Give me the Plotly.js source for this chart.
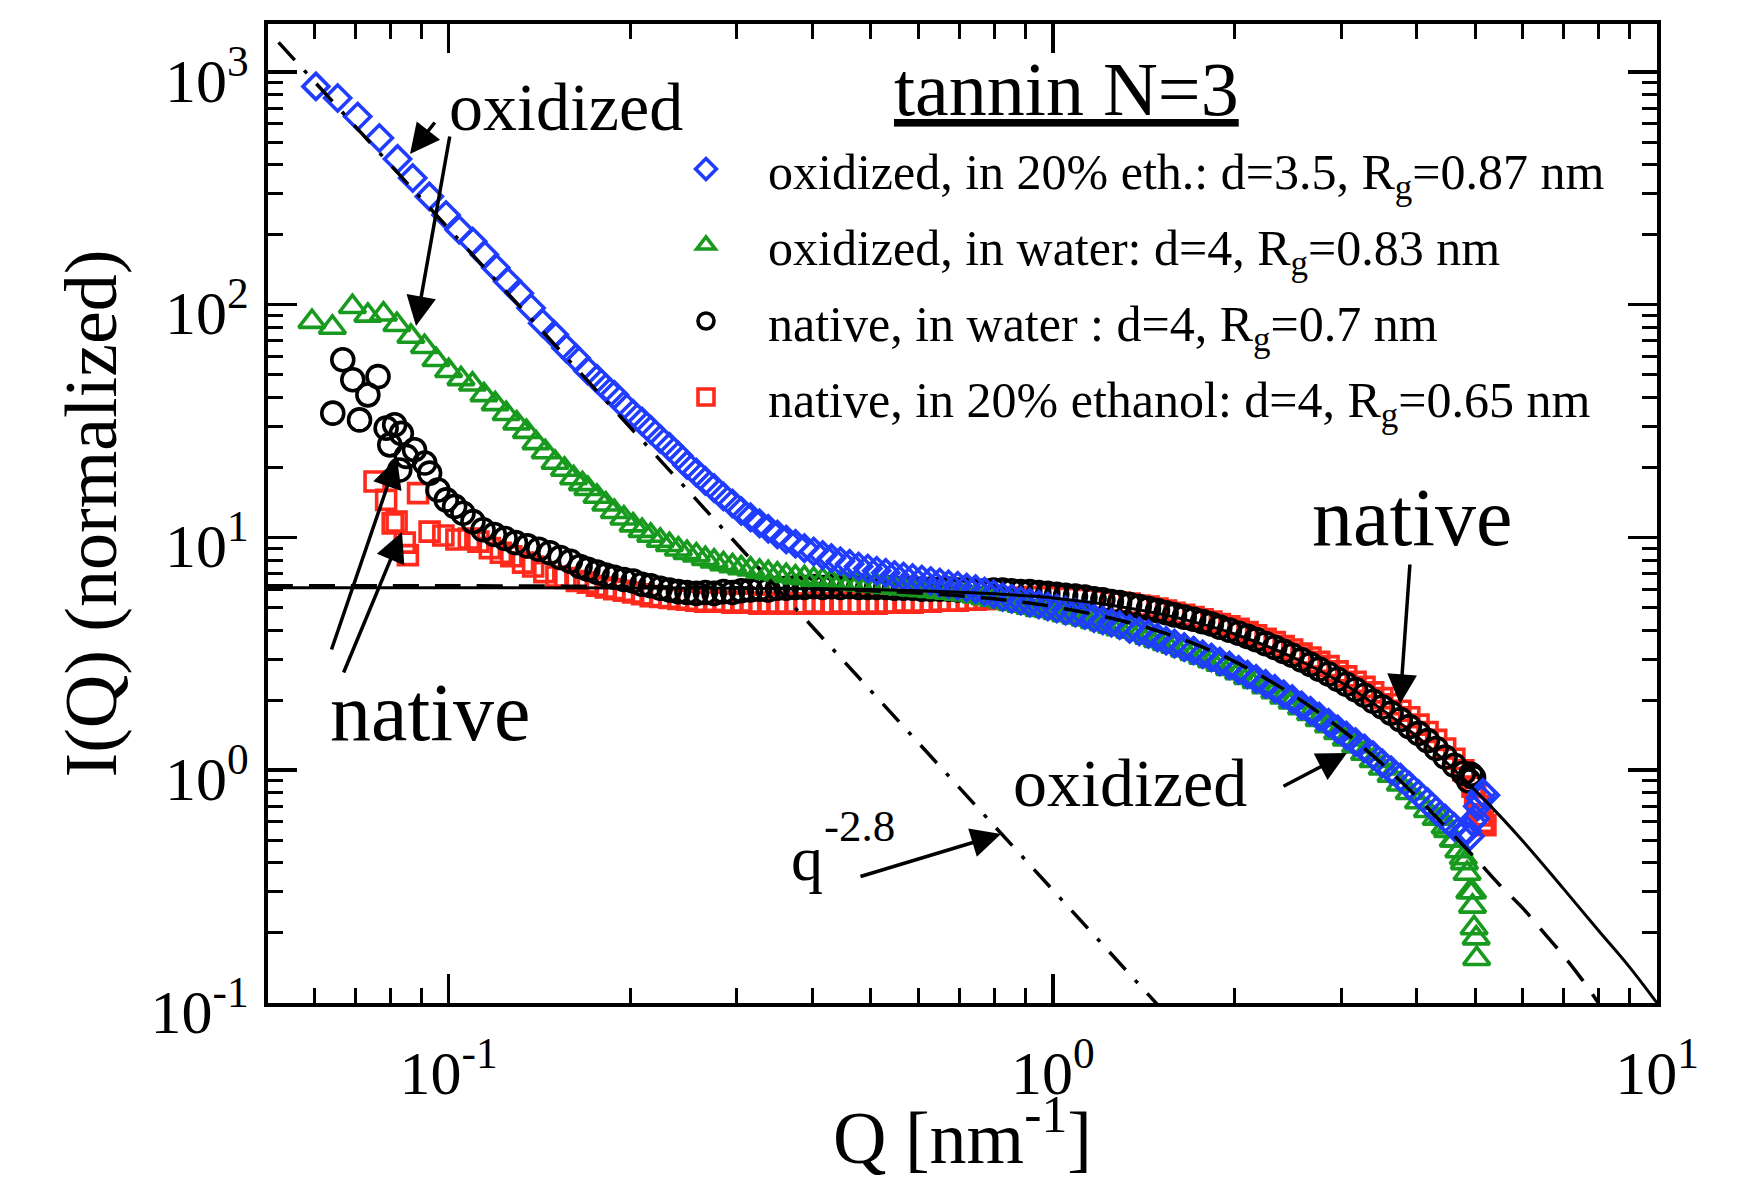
<!DOCTYPE html>
<html><head><meta charset="utf-8">
<script src="https://cdn.plot.ly/plotly-3.0.1.min.js"></script>
<style>html,body{margin:0;padding:0;background:#fff;} #chart{width:1752px;height:1179px;}</style>
</head><body><div id="chart"></div>
<script>
// ---------- data ----------
// oxidized, in 20% ethanol (blue diamonds)
const qBlueLow = [0.0603,0.0655,0.0707,0.0768,0.0823,0.0872,0.0929,0.099,0.1041,0.1096,0.1146,0.1197,0.1252,0.1309,0.1369,0.1431,0.1496,0.1564,0.1625];
const iBlueLow = [867,773,644,520,423,350,292,243,210,187,164,144,126,112,96.7,83.3,74.3,65.1,59];
// oxidized, in water (green triangles)
const qGreenLow = [0.0594,0.0642,0.0693,0.0735,0.078,0.0821,0.0866,0.0912,0.0953,0.1,0.1048,0.1095,0.1144,0.1194,0.1245,0.1296,0.1345,0.1395,0.1445,0.15,0.1555,0.161,0.1665];
const iGreenLow = [84.6,79.8,98,90,91,82,73,66,58,52,48,45.5,41,37.5,34,31,28.5,25.5,23.3,21,19.6,18,17];
// native, in water (black circles)
const qBlackLow = [0.0643,0.0668,0.0694,0.0712,0.0735,0.0764,0.0788,0.0799,0.0814,0.083,0.0835,0.0851,0.0878,0.0913,0.093,0.096,0.0991,0.1023,0.1056,0.1097,0.114,0.119,0.124,0.129,0.135,0.141,0.147,0.153,0.159,0.165];
const iBlackLow = [34.2,58,47.6,32,41,49.1,29.5,25,30.5,19.5,28,22.3,23.8,20.9,18.9,16,14.5,13.6,12.7,11.7,10.8,10.3,9.9,9.5,9.2,8.9,8.6,8.2,7.9,7.5];
// native, in 20% ethanol (red squares)
const qRedLow = [0.0754,0.0788,0.0808,0.082,0.0846,0.0856,0.089,0.093,0.098,0.103,0.108,0.112,0.117,0.122,0.127,0.1328,0.138,0.144,0.1508,0.156,0.163];
const iRedLow = [17.4,14.5,11.5,11.7,9.5,8.4,15.5,10.6,10.2,9.8,9.9,9.6,9.0,8.6,8.3,7.8,7.5,7.1,6.8,6.7,6.5];

// dense part of all four curves, read on a common Q list
const qBand = [0.170,0.176,0.182,0.188,0.195,0.202,0.209,0.216,0.224,0.232,0.240,0.248,0.257,0.266,0.275,0.285,0.295,0.305,0.316,0.327,0.338,0.350,0.362,0.375,0.388,0.402,0.416,0.430,0.445,0.461,0.477,0.494,0.511,0.529,0.547,0.566,0.586,0.607,0.628,0.650,0.672,0.696,0.720,0.745,0.771,0.798,0.826,0.855,0.885,0.916,0.948,0.981,1.015,1.05,1.09,1.13,1.17,1.21,1.25,1.29,1.34,1.39,1.44,1.49,1.54,1.59,1.65,1.71,1.77,1.83,1.89,1.96,2.03,2.10,2.17,2.25,2.33,2.41,2.49,2.58,2.67,2.76,2.86,2.96,3.06,3.17,3.28,3.39,3.51,3.63,3.76,3.89,4.03,4.17,4.31,4.46,4.62,4.78,4.95];
const iBlueBand = [52,48,44,41,37,34,31.5,29,26.5,24.5,22.5,20.5,19,17.5,16.3,15,14,13,12.2,11.5,10.9,10.3,9.8,9.4,9.0,8.7,8.4,8.15,7.9,7.7,7.5,7.35,7.2,7.05,6.9,6.8,6.7,6.6,6.5,6.4,6.3,6.2,6.1,6.0,5.85,5.7,5.55,5.45,5.35,5.25,5.15,5.05,4.95,4.85,4.75,4.65,4.5,4.4,4.3,4.2,4.05,3.95,3.85,3.72,3.6,3.5,3.38,3.27,3.15,3.05,2.93,2.82,2.7,2.58,2.47,2.35,2.24,2.12,2.02,1.9,1.8,1.7,1.6,1.5,1.41,1.32,1.24,1.16,1.07,1.0,0.93,0.86,0.79,0.73,0.67,0.62,0.57,0.54,0.6];
const iGreenBand = [16.2,15.0,13.9,12.9,12.1,11.3,10.7,10.2,9.7,9.3,8.9,8.6,8.4,8.1,7.9,7.7,7.55,7.4,7.3,7.15,7.05,6.95,6.85,6.75,6.7,6.6,6.55,6.45,6.4,6.35,6.3,6.25,6.2,6.15,6.1,6.05,6.0,5.95,5.9,5.85,5.8,5.75,5.7,5.6,5.5,5.4,5.3,5.2,5.1,5.0,4.9,4.85,4.75,4.65,4.55,4.45,4.35,4.25,4.15,4.05,3.95,3.85,3.72,3.6,3.5,3.4,3.28,3.17,3.05,2.95,2.85,2.73,2.62,2.5,2.4,2.28,2.17,2.06,1.96,1.85,1.75,1.65,1.55,1.45,1.36,1.27,1.18,1.1,1.02,0.95,0.87,0.8,0.73,0.67,0.62,0.57,0.5,0.42,0.3];
const iBlackBand = [7.3,7.1,6.9,6.75,6.6,6.5,6.3,6.2,6.05,5.95,5.85,5.8,5.75,5.8,5.75,5.85,5.8,5.9,5.95,6.0,5.95,6.05,6.05,6.1,6.1,6.15,6.1,6.15,6.1,6.15,6.1,6.1,6.1,6.1,6.05,6.05,6.05,6.0,6.0,6.0,6.0,5.95,5.95,5.9,5.9,5.95,5.95,5.9,5.85,5.85,5.8,5.75,5.7,5.65,5.6,5.55,5.45,5.4,5.3,5.25,5.15,5.05,4.95,4.85,4.75,4.65,4.55,4.45,4.35,4.25,4.12,4.0,3.88,3.76,3.64,3.5,3.37,3.24,3.12,2.98,2.85,2.72,2.59,2.46,2.34,2.22,2.1,1.98,1.87,1.76,1.65,1.54,1.44,1.34,1.24,1.14,1.05,0.97,0.94];
const iRedBand = [6.4,6.2,6.1,6.0,5.9,5.8,5.7,5.6,5.55,5.5,5.45,5.4,5.35,5.3,5.35,5.3,5.25,5.3,5.25,5.2,5.25,5.2,5.25,5.2,5.2,5.25,5.2,5.2,5.25,5.2,5.2,5.25,5.2,5.25,5.25,5.3,5.25,5.3,5.3,5.35,5.35,5.35,5.4,5.4,5.45,5.45,5.5,5.5,5.5,5.55,5.55,5.55,5.55,5.5,5.5,5.45,5.4,5.35,5.3,5.25,5.2,5.1,5.05,4.95,4.85,4.75,4.65,4.55,4.45,4.35,4.25,4.15,4.05,3.92,3.8,3.67,3.55,3.42,3.3,3.17,3.05,2.92,2.8,2.66,2.53,2.4,2.28,2.16,2.04,1.92,1.8,1.69,1.57,1.46,1.35,1.24,1.12,1.0,0.85];

// last points at the high-Q end
const qBlueTail = [4.85,4.9,5.0,5.05,5.1,5.15,5.2];
const iBlueTail = [0.55,0.52,0.62,0.7,0.76,0.8,0.78];
const qGreenTail = [4.4,4.5,4.6,4.7,4.8,4.85,4.9,4.95,4.98,5.02,5.03];
const iGreenTail = [0.62,0.55,0.5,0.45,0.4,0.36,0.3,0.26,0.21,0.19,0.155];
const qBlackTail = [4.88,4.92,4.97];
const iBlackTail = [0.9,0.96,0.93];
const qRedTail = [5.0,5.05,5.1,5.15,5.2];
const iRedTail = [0.78,0.7,0.64,0.6,0.58];

// fit curves
const solidQ = [0.05,0.1,0.2,0.3,0.4,0.5,0.6,0.7,0.8,0.9,1.0,1.25,1.5,1.75,2.0,2.5,3.0,3.5,4.0,4.5,5.0,5.5,6.0,7.0,8.0,9.0,10.0];
const solidI = [6.08,6.08,6.07,6.05,6.02,5.97,5.9,5.82,5.73,5.62,5.5,5.12,4.7,4.27,3.85,3.05,2.38,1.83,1.4,1.07,0.82,0.635,0.495,0.31,0.205,0.143,0.1];
const dashedQ = [0.05,0.1,0.2,0.3,0.4,0.5,0.6,0.7,0.8,0.9,1.0,1.25,1.5,1.75,2.0,2.5,3.0,3.5,4.0,4.5,5.0,5.5,6.0,6.5,7.0,7.5,8.0];
const dashedI = [6.2,6.2,6.15,6.08,6.0,5.9,5.77,5.62,5.45,5.25,5.05,4.5,3.95,3.42,2.93,2.1,1.5,1.07,0.77,0.56,0.42,0.32,0.255,0.2,0.16,0.127,0.1];
const powerQ = [0.0523,1.55];
const powerI = [1340,0.088];

// tick labels
const xTickVals = [0.1,1,10];
const xTickText = ['10<sup>-1</sup>','10<sup>0</sup>','10<sup>1</sup>'];
const yTickVals = [0.1,1,10,100,1000];
const yTickText = ['10<sup>-1</sup>','10<sup>0</sup>','10<sup>1</sup>','10<sup>2</sup>','10<sup>3</sup>'];
const xMinorVals = [0.06,0.07,0.08,0.09,0.2,0.3,0.4,0.5,0.6,0.7,0.8,0.9,2,3,4,5,6,7,8,9];
const yMinorVals = [0.2,0.3,0.4,0.5,0.6,0.7,0.8,0.9,2,3,4,5,6,7,8,9,20,30,40,50,60,70,80,90,200,300,400,500,600,700,800,900];

const legendNames = [
  'oxidized, in 20% eth.: d=3.5, R<sub>g</sub>=0.87 nm',
  'oxidized, in water: d=4, R<sub>g</sub>=0.83 nm',
  'native, in water : d=4, R<sub>g</sub>=0.7 nm',
  'native, in 20% ethanol: d=4, R<sub>g</sub>=0.65 nm'
];

// ---------- drawing ----------
const FONT = 'Liberation Serif, Times New Roman, serif';
const BLUE = '#1f3cff', GREEN = '#189a1e', BLACK = '#000000', RED = '#ff2a1c';

function series(name, q, I, symbol, color, size, rank) {
  return {type:'scatter', mode:'markers', name:name, x:q, y:I,
    legendrank:rank, legendgroup:'g'+rank, hoverinfo:'skip',
    marker:{symbol:symbol, size:size, color:color, line:{color:color, width:3.6}}};
}

const traces = [
  series(legendNames[3], qRedLow.concat(qBand, qRedTail), iRedLow.concat(iRedBand, iRedTail), 'square-open', RED, 19, 4),
  series(legendNames[2], qBlackLow.concat(qBand, qBlackTail), iBlackLow.concat(iBlackBand, iBlackTail), 'circle-open', BLACK, 22, 3),
  series(legendNames[1], qGreenLow.concat(qBand, qGreenTail), iGreenLow.concat(iGreenBand, iGreenTail), 'triangle-up-open', GREEN, 23, 2),
  series(legendNames[0], qBlueLow.concat(qBand, qBlueTail), iBlueLow.concat(iBlueBand, iBlueTail), 'diamond-open', BLUE, 20, 1),
  {type:'scatter', mode:'lines', x:solidQ, y:solidI, showlegend:false, hoverinfo:'skip',
    line:{color:'black', width:3, shape:'spline'}},
  {type:'scatter', mode:'lines', x:dashedQ, y:dashedI, showlegend:false, hoverinfo:'skip',
    line:{color:'black', width:3.5, shape:'spline', dash:'26px,16px'}},
  {type:'scatter', mode:'lines', x:powerQ, y:powerI, showlegend:false, hoverinfo:'skip',
    line:{color:'black', width:3.5, dash:'24px,14px,4px,14px'}}
];

// page-pixel helpers for annotation placement (plot area: x 268..1657, y 24..1003)
const PX = x => (x - 268) / 1389;
const PY = y => (1003 - y) / 979;

function arrow(tipX, tipY, tailX, tailY) {
  return {xref:'paper', yref:'paper', x:PX(tipX), y:PY(tipY), text:'',
    showarrow:true, axref:'pixel', ayref:'pixel', ax:tailX - tipX, ay:tailY - tipY,
    arrowhead:2, arrowsize:1.7, arrowwidth:3.5, arrowcolor:'black', standoff:0, startstandoff:0};
}
function label(text, cx, cy, size, anchor) {
  return {xref:'paper', yref:'paper', x:PX(cx), y:PY(cy), text:text, showarrow:false,
    xanchor:anchor || 'center', yanchor:'middle', font:{family:FONT, size:size, color:'black'}};
}

const annotations = [
  label('<u>tannin N=3</u>', 1066, 89, 76),
  label('oxidized', 566, 107, 68),
  label('native', 430, 712, 82),
  label('native', 1412, 517, 82),
  label('oxidized', 1130, 783, 68),
  label('q', 789, 858, 64, 'left'),
  label('-2.8', 822, 826, 45, 'left'),
  arrow(410, 154, 436, 121),
  arrow(416, 326, 450, 135),
  arrow(397, 458, 331, 651),
  arrow(402, 532, 343, 674),
  arrow(1400, 704, 1410, 563),
  arrow(1347, 753, 1282, 787),
  arrow(1001, 834, 859, 877)
];

const axisCommon = {
  type:'log', showline:true, linewidth:4, linecolor:'black', mirror:'ticks',
  ticks:'inside', ticklen:29, tickwidth:3.5, tickcolor:'black',
  showgrid:false, zeroline:false, tickfont:{family:FONT, size:62, color:'black'}
};

const layout = {
  width:1752, height:1179,
  margin:{l:268, r:95, t:24, b:176, pad:0},
  paper_bgcolor:'white', plot_bgcolor:'white',
  font:{family:FONT, color:'black'},
  showlegend:true,
  legend:{x:PX(644), y:PY(130), xanchor:'left', yanchor:'top',
    font:{family:FONT, size:50, color:'black'}, itemwidth:114, tracegroupgap:8,
    bgcolor:'rgba(0,0,0,0)', borderwidth:0},
  xaxis:Object.assign({}, axisCommon, {
    range:[-1.299, 1.0], tickvals:xTickVals, ticktext:xTickText, ticklabelstandoff:13,
    minor:{ticks:'inside', ticklen:15, tickwidth:3, tickcolor:'black', tickvals:xMinorVals, showgrid:false},
    title:{text:'Q [nm<sup>-1</sup>]', font:{family:FONT, size:74, color:'black'}, standoff:42}
  }),
  yaxis:Object.assign({}, axisCommon, {
    range:[-1, 3.206], tickvals:yTickVals, ticktext:yTickText, ticklabelstandoff:3, ticklabelshift:8,
    minor:{ticks:'inside', ticklen:15, tickwidth:3, tickcolor:'black', tickvals:yMinorVals, showgrid:false},
    title:{text:'I(Q) (normalized)', font:{family:FONT, size:74, color:'black'}, standoff:11}
  }),
  annotations:annotations
};

Plotly.newPlot('chart', traces, layout, {staticPlot:true, displayModeBar:false});
</script></body></html>
